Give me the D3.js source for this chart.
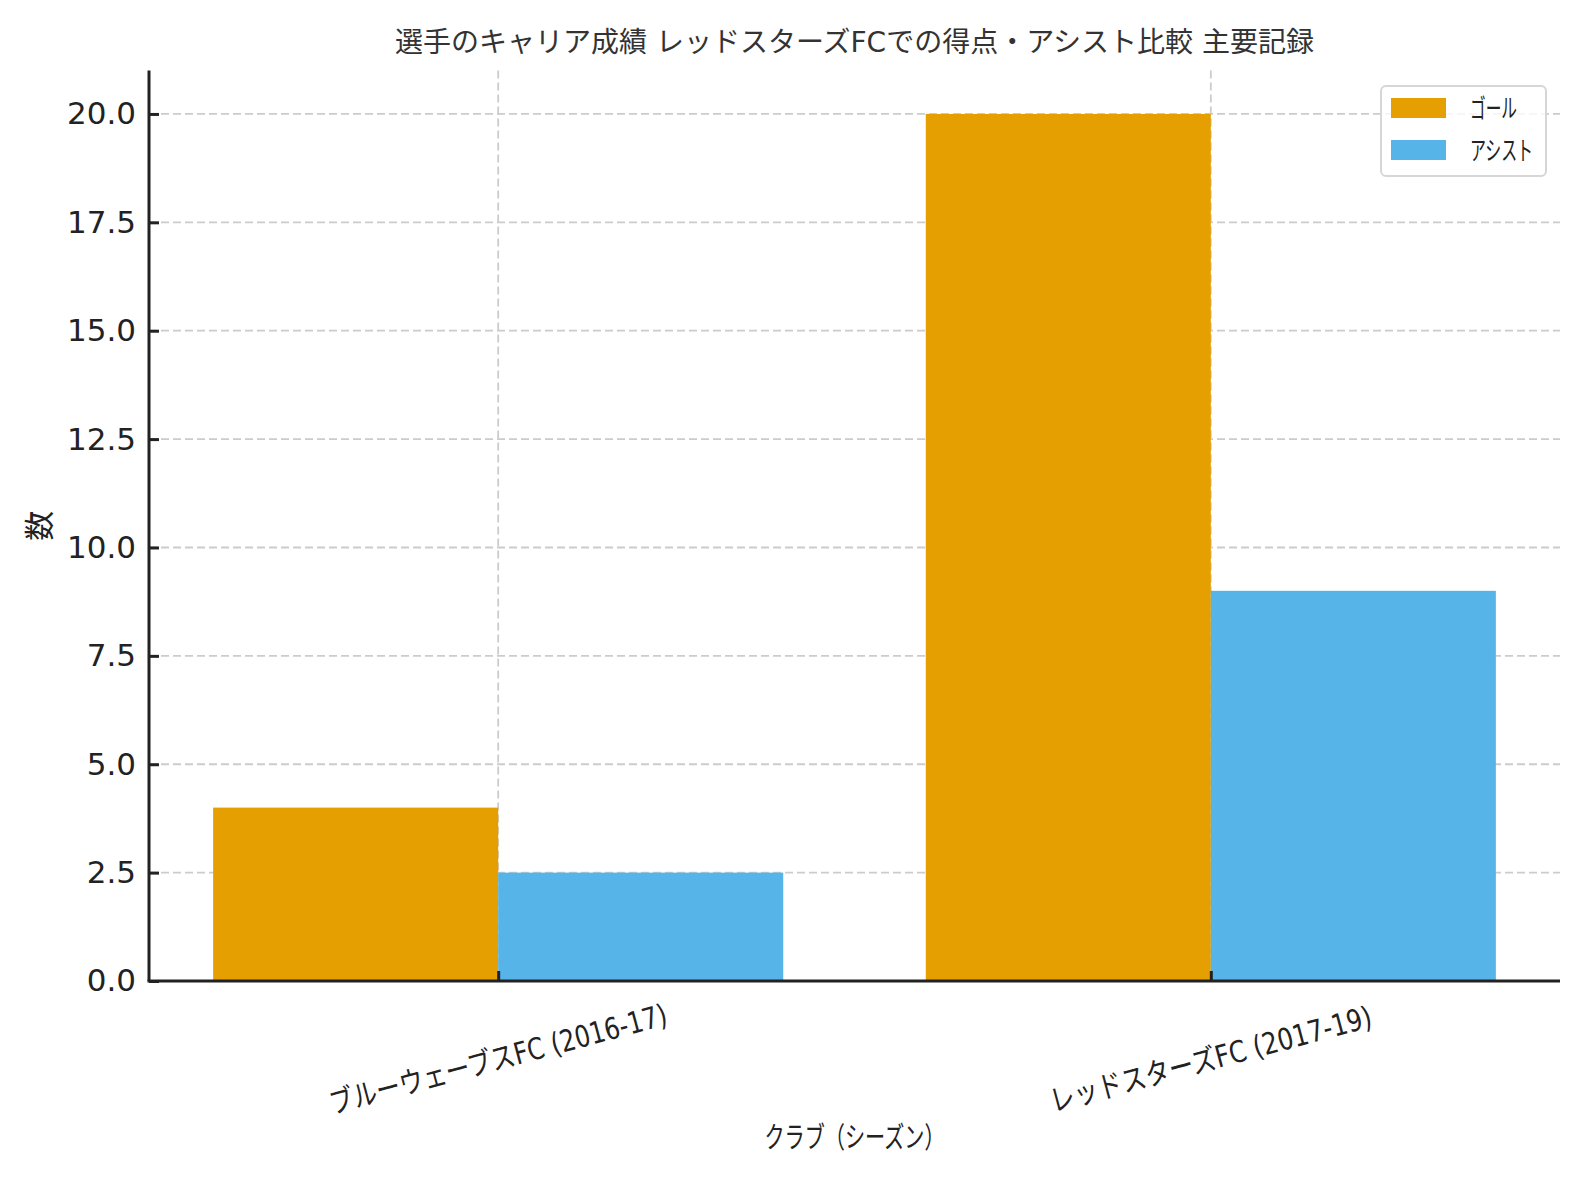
<!DOCTYPE html>
<html>
<head>
<meta charset="utf-8">
<script src="https://cdn.jsdelivr.net/npm/d3@7"></script>
<style>
  html, body { margin: 0; padding: 0; background: #fff; }
  svg { display: block; }
  text { font-family: "DejaVu Sans", "Noto Sans CJK JP", sans-serif; }
</style>
</head>
<body>
<svg id="chart" width="1580" height="1180"></svg>
<script>
// ---- data ----
const categories = ["ブルーウェーブスFC (2016-17)", "レッドスターズFC (2017-19)"];
const seriesNames = ["ゴール", "アシスト"];
const goals = [4, 20];
const assists = [2.5, 9];
const yTicks = [0, 2.5, 5, 7.5, 10, 12.5, 15, 17.5, 20];
const titleText = "選手のキャリア成績 レッドスターズFCでの得点・アシスト比較 主要記録";
const xLabelText = "クラブ（シーズン）";
const yLabelText = "数";
const colors = ["#E69F00", "#56B4E9"];

// ---- layout ----
const svg = d3.select("#chart");
const L = 149, R = 1560, T = 70.6, B = 981;
const x = d3.scaleLinear().domain([-0.49, 1.49]).range([L, R]);
const y = d3.scaleLinear().domain([0, 21]).range([B, T]);
const barW = 0.4;

const gridColor = "#cccccc";
const dash = "8,4";

// grid
const grid = svg.append("g");
grid.selectAll("line.h").data(yTicks).enter().append("line")
  .attr("x1", L).attr("x2", R)
  .attr("y1", d => y(d)).attr("y2", d => y(d))
  .attr("stroke", gridColor).attr("stroke-width", 1.8).attr("stroke-dasharray", dash);
grid.selectAll("line.v").data(categories.map((c, i) => i)).enter().append("line")
  .attr("x1", d => x(d)).attr("x2", d => x(d))
  .attr("y1", T).attr("y2", B)
  .attr("stroke", gridColor).attr("stroke-width", 1.8).attr("stroke-dasharray", dash);

// bars
const series = [goals, assists];
series.forEach((vals, s) => {
  svg.append("g").selectAll("rect").data(vals).enter().append("rect")
    .attr("x", (d, i) => x(i + (s === 0 ? -barW : 0)))
    .attr("width", x(barW) - x(0))
    .attr("y", d => y(d))
    .attr("height", d => y(0) - y(d))
    .attr("fill", colors[s]);
});

// axes (ticks inward)
const yAxis = d3.axisLeft(y).tickValues(yTicks).tickFormat(d3.format(".1f"))
  .tickSizeInner(-10).tickSizeOuter(0).tickPadding(14);
const gy = svg.append("g").attr("transform", `translate(${L},0)`).call(yAxis);
gy.select(".domain").attr("stroke", "#222").attr("stroke-width", 3).attr("d", `M0,${T}V${B}`);
gy.selectAll(".tick line").attr("stroke", "#222").attr("stroke-width", 3);
gy.selectAll(".tick text").attr("font-size", 31).attr("fill", "#222")
  .attr("font-family", "DejaVu Sans").attr("x", -13);

const xAxis = d3.axisBottom(x).tickValues(categories.map((c, i) => i)).tickFormat("")
  .tickSizeInner(-10).tickSizeOuter(0);
const gx = svg.append("g").attr("transform", `translate(0,${B})`).call(xAxis);
gx.select(".domain").attr("stroke", "#222").attr("stroke-width", 3).attr("d", `M${L - 1.5},0H${R}`);
gx.selectAll(".tick line").attr("stroke", "#222").attr("stroke-width", 3);

// x tick labels rotated
const labelLens = [348, 332];
svg.append("g").selectAll("text").data(categories).enter().append("text")
  .attr("transform", (d, i) => `translate(${x(i)},1059) rotate(-15)`)
  .attr("text-anchor", "middle")
  .attr("dominant-baseline", "central")
  .attr("font-size", 30).attr("fill", "#222")
  .attr("textLength", (d, i) => labelLens[i])
  .attr("lengthAdjust", "spacingAndGlyphs")
  .text(d => d);

// axis labels
svg.append("text")
  .attr("x", (L + R) / 2).attr("y", 1148)
  .attr("text-anchor", "middle").attr("font-size", 29).attr("fill", "#222")
  .attr("textLength", 180).attr("lengthAdjust", "spacingAndGlyphs")
  .text(xLabelText);
svg.append("text")
  .attr("transform", `translate(50,${(T + B) / 2}) rotate(-90)`)
  .attr("text-anchor", "middle").attr("font-size", 30).attr("fill", "#222")
  .text(yLabelText);

// title
svg.append("text")
  .attr("x", (L + R) / 2).attr("y", 52)
  .attr("text-anchor", "middle").attr("font-size", 28).attr("fill", "#333")
  .text(titleText);

// legend
const lg = svg.append("g");
lg.append("rect").attr("x", 1381).attr("y", 86).attr("width", 165).attr("height", 90)
  .attr("rx", 5).attr("fill", "#fff").attr("fill-opacity", 0.8)
  .attr("stroke", "#d6d6d6").attr("stroke-width", 2);
const legendLens = [47, 63];
seriesNames.forEach((n, i) => {
  const cy = 108 + i * 42;
  lg.append("rect").attr("x", 1391).attr("y", cy - 10).attr("width", 55).attr("height", 20)
    .attr("fill", colors[i]);
  lg.append("text").attr("x", 1470).attr("y", cy + 1)
    .attr("dominant-baseline", "central").attr("font-size", 26).attr("fill", "#222")
    .attr("textLength", legendLens[i]).attr("lengthAdjust", "spacingAndGlyphs")
    .text(n);
});
</script>
</body>
</html>
